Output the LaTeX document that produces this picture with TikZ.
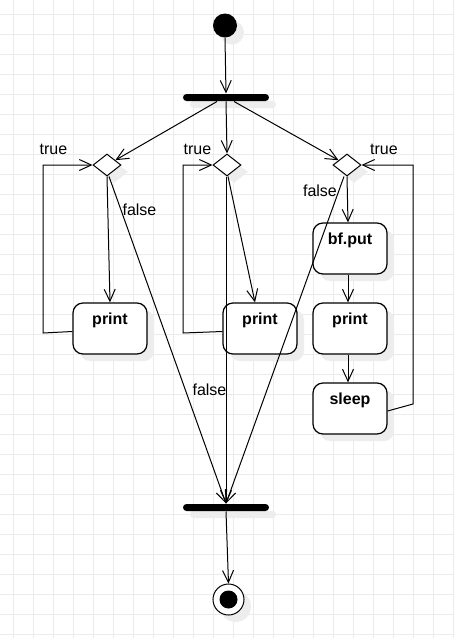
\documentclass[tikz,border=0pt]{standalone}
\usepackage{fontspec}
\setmainfont{Liberation Sans}
\usetikzlibrary{arrows.meta,shapes.geometric,shadows}
\begin{document}
\begin{tikzpicture}[x=1pt,y=-1pt,
  line width=1pt,
  >={Straight Barb[length=12pt,width=11pt]},
  txt/.style={font=\fontsize{16}{19}\selectfont, inner sep=0pt},
  shad/.style={drop shadow={shadow xshift=7pt,shadow yshift=-7pt,fill=black!7,opacity=1}},
  act/.style={draw, line width=1.2pt, rounded corners=10pt, fill=white, minimum width=74pt, minimum height=51pt, inner sep=0pt, shad},
  dec/.style={draw, diamond, fill=white, minimum width=28pt, minimum height=22pt, inner sep=0pt, shad},
  forkbar/.style={fill=black, rounded corners=3.5pt, minimum width=86pt, minimum height=7pt, inner sep=0pt, shad},
  acttext/.style={txt, font=\fontsize{16}{19}\selectfont\bfseries, yshift=8.5pt},
  flow/.style={->}
]
\useasboundingbox (0,0) rectangle (454,638);
\fill[white] (0,0) rectangle (454,638);
\foreach \k in {0,...,22} \draw[black!8] ({13.5+20*\k},0) -- ({13.5+20*\k},638);
\foreach \k in {0,...,31} \draw[black!8] (0,{14+20*\k}) -- (454,{14+20*\k});

% nodes
\node[circle, fill=black, minimum size=24pt, inner sep=0pt, shad] (start) at (225,25.5) {};
\node[forkbar] (fork) at (226,97.5) {};
\node[dec] (d1) at (107,165) {};
\node[dec] (d2) at (227,165) {};
\node[dec] (d3) at (347,165) {};
\node[act, label={[acttext]center:print}] (p1) at (110,328.5) {};
\node[act, label={[acttext]center:print}] (p2) at (260,328.5) {};
\node[act, label={[acttext]center:bf.put}] (bf) at (350,248.5) {};
\node[act, label={[acttext]center:print}] (p3) at (350,328.5) {};
\node[act, label={[acttext]center:sleep}] (sl) at (350,408.5) {};
\node[forkbar] (join) at (226,507.5) {};
\node[circle, draw, fill=white, minimum size=31pt, inner sep=0pt, shad] (end) at (228.5,599.5) {};
\node[circle, fill=black, minimum size=18pt, inner sep=0pt] (endin) at (end.center) {};

% labels
\node[txt] (t1) at (53.5,149) {true};
\node[txt] (t2) at (197.5,149) {true};
\node[txt] (t3) at (384,149) {true};
\node[txt] (f1) at (139.5,209.5) {false};
\node[txt] (f2) at (209.5,390) {false};
\node[txt] (f3) at (320,191) {false};

% loop corner points
\coordinate (l1a) at (43,333);
\coordinate (l1b) at (43,165);
\coordinate (l2a) at (183,333);
\coordinate (l2b) at (183,165);
\coordinate (l3a) at (413,404);
\coordinate (l3b) at (413,165);

% connectors
\draw[flow] (start.south) -- (fork.north);
\draw[flow] ([xshift=-9pt]fork.south) -- (d1);
\draw[flow] (fork.south) -- (d2.north);
\draw[flow] ([xshift=8pt]fork.south) -- (d3);
\draw[flow] (d1.south) -- (p1.north);
\draw[flow] ([xshift=2pt]d1.south) -- (join.north);
\draw[flow] ([xshift=1pt]d2.south) -- ([xshift=-5pt]p2.north);
\draw[flow] ([xshift=-1pt]d2.south) -- (join.north);
\draw[flow] (d3.south) -- ([xshift=-2pt]bf.north);
\draw[flow] ([xshift=-3pt]d3.south) -- (join.north);
\draw[flow] ([xshift=-2pt]bf.south) -- ([xshift=-2pt]p3.north);
\draw[flow] ([xshift=-2pt]p3.south) -- ([xshift=-2pt]sl.north);
\draw[flow] ([yshift=-3pt]p1.west) -- (l1a) -- (l1b) -- (d1.west);
\draw[flow] ([yshift=-3pt]p2.west) -- (l2a) -- (l2b) -- (d2.west);
\draw[flow] ([yshift=-2.5pt]sl.east) -- (l3a) -- (l3b) -- (d3.east);
\draw[flow] (join.south) -- (end.north);
\end{tikzpicture}
\end{document}
